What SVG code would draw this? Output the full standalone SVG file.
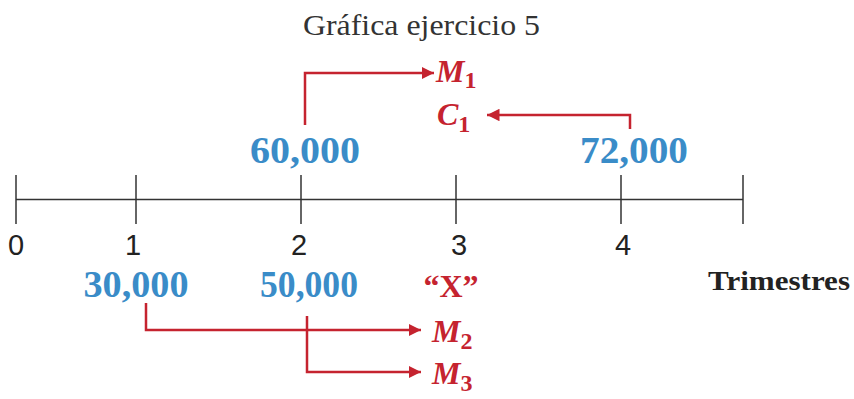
<svg xmlns="http://www.w3.org/2000/svg" width="854" height="399" viewBox="0 0 854 399">
<style>
.title{font-family:'Liberation Serif','Times New Roman',Times,serif;font-size:29px;fill:#333}
.tick{font-family:'Liberation Sans',Arial,Helvetica,sans-serif;font-size:29px;fill:#222;text-anchor:middle}
.num{font-family:'Liberation Serif','Times New Roman',Times,serif;font-weight:bold;font-size:38px;fill:#3a8cc8;text-anchor:middle}
.red{font-family:'Liberation Serif','Times New Roman',Times,serif;font-weight:bold;font-style:italic;font-size:32px;fill:#c5232f}
.sub{font-size:24px;font-style:normal}
.x{font-family:'Liberation Serif','Times New Roman',Times,serif;font-weight:bold;font-size:32px;fill:#c5232f;text-anchor:middle}
.unit{font-family:'Liberation Serif','Times New Roman',Times,serif;font-weight:bold;font-size:28px;fill:#222}
.axis{stroke:#333;stroke-width:1.5;fill:none}
.conn{stroke:#c5232f;stroke-width:2.5;fill:none}
</style>
<defs>
<marker id="ah" viewBox="0 0 10 10" refX="10" refY="5" markerWidth="5" markerHeight="5" markerUnits="strokeWidth" orient="auto">
<path d="M0,0 L10,5 L0,10 Z" fill="#c5232f"/>
</marker>
</defs>
<g id="title"><text class="title" x="303" y="35" textLength="237" lengthAdjust="spacingAndGlyphs">Gráfica ejercicio 5</text></g>
<g id="axis">
<line class="axis" x1="16" y1="199.5" x2="743" y2="199.5"/>
<line class="axis" x1="16" y1="175" x2="16" y2="224"/>
<line class="axis" x1="136" y1="175" x2="136" y2="224"/>
<line class="axis" x1="301" y1="175" x2="301" y2="224"/>
<line class="axis" x1="456" y1="175" x2="456" y2="224"/>
<line class="axis" x1="621" y1="175" x2="621" y2="224"/>
<line class="axis" x1="743" y1="175" x2="743" y2="224"/>
<text class="tick" x="16" y="255">0</text>
<text class="tick" x="133" y="255">1</text>
<text class="tick" x="299" y="255">2</text>
<text class="tick" x="459" y="255">3</text>
<text class="tick" x="623" y="255">4</text>
</g>
<g id="n60000"><text class="num" x="305" y="163" textLength="110" lengthAdjust="spacingAndGlyphs">60,000</text></g>
<g id="n72000"><text class="num" x="634" y="163" textLength="108" lengthAdjust="spacingAndGlyphs">72,000</text></g>
<g id="n30000"><text class="num" x="136" y="297" textLength="105" lengthAdjust="spacingAndGlyphs">30,000</text></g>
<g id="n50000"><text class="num" x="309" y="297" textLength="98" lengthAdjust="spacingAndGlyphs">50,000</text></g>
<g id="x"><text class="x" x="451" y="297">“X”</text></g>
<g id="trimestres"><text class="unit" x="708" y="290" textLength="142" lengthAdjust="spacingAndGlyphs">Trimestres</text></g>
<g id="M1"><text class="red" x="436" y="82">M<tspan class="sub" dy="6">1</tspan></text></g>
<g id="C1"><text class="red" x="437" y="125">C<tspan class="sub" dy="7">1</tspan></text></g>
<g id="M2"><text class="red" x="432" y="342">M<tspan class="sub" dy="7">2</tspan></text></g>
<g id="M3"><text class="red" x="432" y="384">M<tspan class="sub" dy="7">3</tspan></text></g>
<g id="connectors">
<path class="conn" d="M305,125 V73 H434" marker-end="url(#ah)"/>
<path class="conn" d="M630,129 V115 H487" marker-end="url(#ah)"/>
<path class="conn" d="M146,303 V330 H421" marker-end="url(#ah)"/>
<path class="conn" d="M307,316 V372 H421" marker-end="url(#ah)"/>
</g>
</svg>
